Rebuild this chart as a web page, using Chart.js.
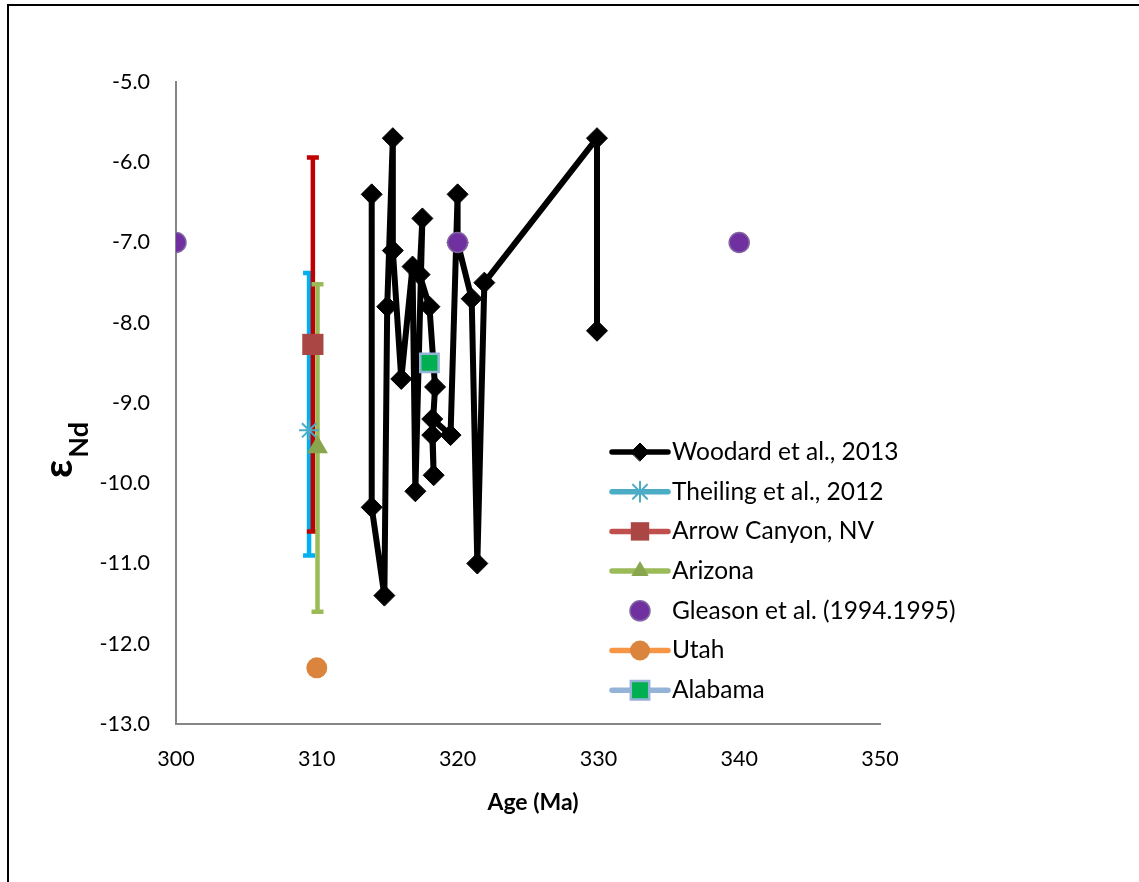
<!DOCTYPE html>
<html>
<head>
<meta charset="utf-8">
<script src="https://cdn.jsdelivr.net/npm/chart.js@4.4.1/dist/chart.umd.min.js"></script>
<style>
  html, body { margin: 0; background: #fff; }
  canvas { display: block; }
</style>
</head>
<body>
<canvas id="endChart" width="1139" height="882"></canvas>
<script>
// Woodard et al., 2013 (connected in data order)
const woodardAge = [313.9, 313.9, 314.8, 315.0, 315.4, 315.4, 316.0, 316.8, 317.0, 317.5, 317.3, 318.0, 318.4, 318.2, 318.3, 318.2, 319.5, 320.0, 320.0, 321.0, 321.4, 321.9, 329.9, 329.9];
const woodardEnd = [-6.4, -10.3, -11.4, -7.8, -5.7, -7.1, -8.7, -7.3, -10.1, -6.7, -7.4, -7.8, -8.8, -9.4, -9.9, -9.2, -9.4, -6.4, -7.0, -7.7, -11.0, -7.5, -5.7, -8.1];

// single points with error ranges
const theilingAge = [309.45], theilingEnd = [-9.34], theilingLo = [-10.9], theilingHi = [-7.38];
const arrowAge = [309.72], arrowEnd = [-8.27], arrowLo = [-10.6], arrowHi = [-5.94];
const arizonaAge = [310.05], arizonaEnd = [-9.55], arizonaLo = [-11.6], arizonaHi = [-7.52];

const gleasonAge = [300, 320, 340], gleasonEnd = [-7.0, -7.0, -7.0];
const utahAge = [310.0], utahEnd = [-12.3];
const alabamaAge = [318.0], alabamaEnd = [-8.5];

const ageTicks = [300, 310, 320, 330, 340, 350];
const endTicks = [-5, -6, -7, -8, -9, -10, -11, -12, -13];

const pts = (xs, ys) => xs.map((x, i) => ({ x, y: ys[i] }));
const FONT = 'Lato, "Open Sans", sans-serif';

Chart.defaults.font.family = FONT;
Chart.defaults.color = '#000';

const datasets = [
  { label: 'Woodard et al., 2013', data: pts(woodardAge, woodardEnd), showLine: true,
    borderColor: '#000', borderWidth: 6, borderJoinStyle: 'round', backgroundColor: '#000',
    pointStyle: 'rectRot', pointRadius: 10.5, pointBorderWidth: 1, pointBorderColor: '#000',
    pointBackgroundColor: '#000', order: 10, legendLine: '#000' },
  { label: 'Theiling et al., 2012', data: pts(theilingAge, theilingEnd), showLine: false,
    pointStyle: 'star', pointRadius: 10, pointBorderWidth: 2, pointBorderColor: '#4BACC6',
    pointBackgroundColor: '#4BACC6', order: 3, legendLine: '#4BACC6',
    err: { lo: theilingLo, hi: theilingHi, color: '#00B0F0' } },
  { label: 'Arrow Canyon, NV', data: pts(arrowAge, arrowEnd), showLine: false,
    pointStyle: 'rect', pointRadius: 15, pointBorderWidth: 0, pointBorderColor: '#AA4643',
    pointBackgroundColor: '#AA4643', order: 4, legendLine: '#C0504D',
    err: { lo: arrowLo, hi: arrowHi, color: '#C00000' } },
  { label: 'Arizona', data: pts(arizonaAge, arizonaEnd), showLine: false,
    pointStyle: 'triangle', pointRadius: 12, pointBorderWidth: 0, pointBorderColor: '#89A54E',
    pointBackgroundColor: '#89A54E', order: 2, legendLine: '#9BBB59',
    err: { lo: arizonaLo, hi: arizonaHi, color: '#9BBB59' } },
  { label: 'Gleason et al. (1994.1995)', data: pts(gleasonAge, gleasonEnd), showLine: false,
    pointStyle: 'circle', pointRadius: 10, pointBorderWidth: 1.5, pointBorderColor: '#8064A2',
    pointBackgroundColor: '#7030A0', order: 1, legendLine: null },
  { label: 'Utah', data: pts(utahAge, utahEnd), showLine: false,
    pointStyle: 'circle', pointRadius: 10.5, pointBorderWidth: 0, pointBorderColor: '#DB843D',
    pointBackgroundColor: '#DB843D', order: 1, legendLine: '#F79646' },
  { label: 'Alabama', data: pts(alabamaAge, alabamaEnd), showLine: false,
    pointStyle: 'rect', pointRadius: 13, pointBorderWidth: 2.5, pointBorderColor: '#95B3D7',
    pointBackgroundColor: '#00B050', order: 0, legendLine: '#95B3D7' }
];

const frame = {
  id: 'frame',
  beforeDraw(chart) {
    const ctx = chart.ctx;
    ctx.save();
    ctx.strokeStyle = '#000';
    ctx.lineWidth = 2;
    ctx.beginPath();
    ctx.moveTo(8, 882);
    ctx.lineTo(8, 5);
    ctx.lineTo(1139, 5);
    ctx.stroke();
    ctx.restore();
  }
};

const errorBars = {
  id: 'errorBars',
  beforeDatasetsDraw(chart) {
    const { ctx, scales: { x, y } } = chart;
    ctx.save();
    chart.data.datasets.forEach(ds => {
      if (!ds.err) return;
      ds.data.forEach((p, i) => {
        const px = x.getPixelForValue(p.x);
        const top = y.getPixelForValue(ds.err.hi[i]);
        const bot = y.getPixelForValue(ds.err.lo[i]);
        ctx.strokeStyle = ds.err.color;
        ctx.lineWidth = 4.5;
        ctx.lineCap = 'butt';
        ctx.beginPath();
        ctx.moveTo(px, top); ctx.lineTo(px, bot);
        ctx.moveTo(px - 6, top); ctx.lineTo(px + 6, top);
        ctx.moveTo(px - 6, bot); ctx.lineTo(px + 6, bot);
        ctx.stroke();
      });
    });
    ctx.restore();
  }
};

const titles = {
  id: 'titles',
  afterDraw(chart) {
    const ctx = chart.ctx;
    ctx.save();
    ctx.fillStyle = '#000';
    // x axis title
    ctx.font = 'bold 23px ' + FONT;
    ctx.textAlign = 'center';
    ctx.textBaseline = 'middle';
    ctx.fillText('Age (Ma)', 533, 803);
    // y axis title: epsilon with subscript Nd
    ctx.translate(72, 478);
    ctx.rotate(-Math.PI / 2);
    ctx.textAlign = 'left';
    ctx.textBaseline = 'alphabetic';
    ctx.font = 'bold 40px ' + FONT;
    ctx.fillText('ε', 0, 0);
    const w = ctx.measureText('ε').width;
    ctx.font = 'bold 27px ' + FONT;
    ctx.fillText('Nd', w + 2, 16);
    ctx.restore();
  }
};

const legendBox = {
  id: 'legendBox',
  afterDraw(chart) {
    const ctx = chart.ctx;
    const x0 = 612, x1 = 668, tx = 672, y0 = 452, gap = 39.7;
    ctx.save();
    chart.data.datasets.forEach((ds, i) => {
      const yy = y0 + i * gap;
      if (ds.legendLine) {
        ctx.strokeStyle = ds.legendLine;
        ctx.lineWidth = 5.5;
        ctx.lineCap = 'round';
        ctx.beginPath();
        ctx.moveTo(x0, yy); ctx.lineTo(x1, yy);
        ctx.stroke();
      }
      ctx.fillStyle = ds.pointBackgroundColor;
      ctx.strokeStyle = ds.pointBorderColor;
      ctx.lineWidth = ds.pointBorderWidth;
      const r = ds.pointStyle === 'rectRot' ? 9 : ds.pointStyle === 'rect' ? Math.min(ds.pointRadius, 13) : Math.min(ds.pointRadius, 10);
      Chart.helpers.drawPoint(ctx, { pointStyle: ds.pointStyle, radius: r, borderWidth: ds.pointBorderWidth, rotation: 0 }, (x0 + x1) / 2, yy);
      ctx.fillStyle = '#000';
      ctx.font = '24.5px ' + FONT;
      ctx.textAlign = 'left';
      ctx.textBaseline = 'middle';
      ctx.fillText(ds.label, tx, yy);
    });
    ctx.restore();
  }
};

new Chart(document.getElementById('endChart'), {
  type: 'scatter',
  data: { datasets },
  options: {
    responsive: false,
    animation: false,
    layout: { padding: { top: 82, right: 259, left: 0, bottom: 0 } },
    plugins: { legend: { display: false }, tooltip: { enabled: false } },
    scales: {
      x: {
        type: 'linear', min: 300, max: 350,
        afterBuildTicks: s => { s.ticks = ageTicks.map(v => ({ value: v })); },
        afterFit: s => { s.height = 158; },
        grid: { display: false, drawTicks: false },
        border: { display: true, color: '#868686', width: 2 },
        ticks: { font: { size: 21.5 }, padding: 22, callback: v => String(v) }
      },
      y: {
        type: 'linear', min: -13, max: -5,
        afterBuildTicks: s => { s.ticks = endTicks.map(v => ({ value: v })); },
        afterFit: s => { s.width = 176; },
        grid: { display: false, drawTicks: false },
        border: { display: true, color: '#868686', width: 2 },
        ticks: { font: { size: 21.5 }, padding: 26, callback: v => Number(v).toFixed(1) }
      }
    }
  },
  plugins: [frame, errorBars, titles, legendBox]
});
</script>
</body>
</html>
